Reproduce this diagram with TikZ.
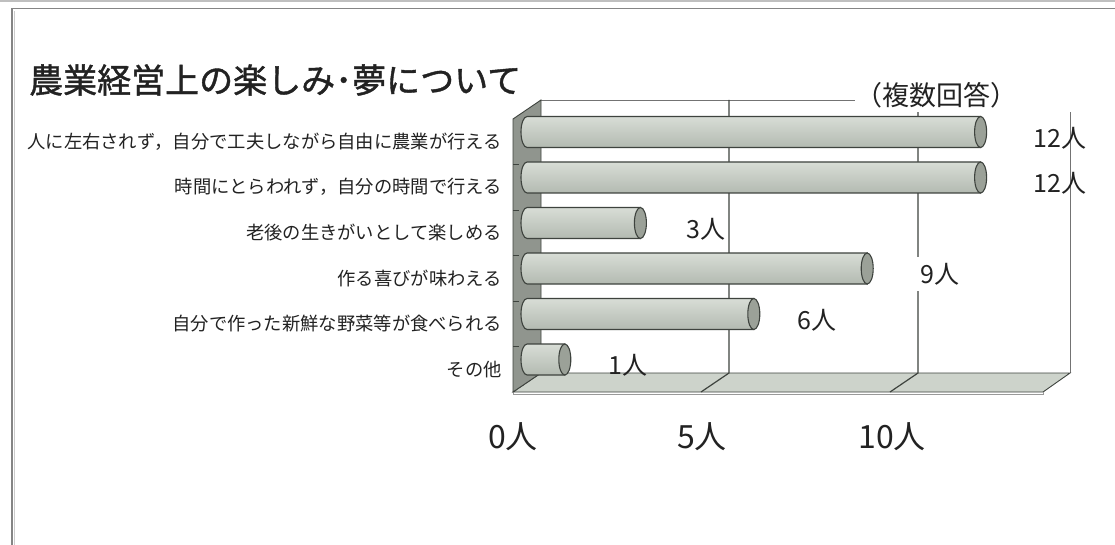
\documentclass[tikz,border=0pt]{standalone}
\usepackage{fontspec}
\setmainfont{Noto Sans CJK JP}
\newfontfamily\titlefont[FakeBold=1.2]{Noto Sans CJK JP}
\definecolor{wallgray}{HTML}{90958E}
\definecolor{floorc}{HTML}{CDD3CB}
\definecolor{edgec}{HTML}{3E433E}
\definecolor{capc}{HTML}{9BA198}
\definecolor{barTop}{HTML}{D8DDD6}
\definecolor{barMid}{HTML}{EDF0EB}
\definecolor{barBot}{HTML}{B3BAB1}
\definecolor{framec}{HTML}{858585}
\definecolor{txtc}{HTML}{222222}
\tikzset{
  catlabel/.style={anchor=east,inner sep=0pt,font=\fontsize{18.3}{20}\selectfont,text=txtc},
  vallabel/.style={inner sep=1pt,font=\fontsize{25}{28}\selectfont,text=txtc},
  axlabel/.style={inner sep=0pt,font=\fontsize{32}{34}\selectfont,text=txtc},
  gridln/.style={draw=edgec,line width=1.2pt},
  barbody/.style={draw=edgec,line width=1.1pt,top color=barTop,middle color=barMid,bottom color=barBot},
  barcap/.style={draw=edgec,line width=1.1pt,fill=capc},
}
\begin{document}
\begin{tikzpicture}[x=1pt,y=-1pt]
\useasboundingbox (0,0) rectangle (1115,545);
\fill[white] (0,0) rectangle (1115,545);
% frame
\fill[black!25] (0,0) rectangle (1115,2.5);
\draw[framec,line width=1.6pt] (12,545) -- (12,8.5) -- (1115,8.5);
\draw[black!20,line width=0.8pt] (14.5,545) -- (14.5,11);
% title
\node[anchor=west,inner sep=0pt,font=\fontsize{34}{36}\selectfont\titlefont,text=txtc] (title) at (29,80) {農業経営上の楽しみ･夢について};
% back wall
\coordinate (bwTL) at (541,100);
\coordinate (bwTR) at (1070,100);
\coordinate (bwBR) at (1070,373);
\coordinate (bwBL) at (541,373);
\coordinate (fL) at (513,392);
\coordinate (fR) at (1043,392);
\coordinate (lwT) at (513,119);
\draw[black!55,line width=0.9pt] (bwTL) -- (bwTR) -- (bwBR);
% floor
\filldraw[fill=floorc,draw=edgec,line width=0.9pt] (bwBL) -- (bwBR) -- (fR) -- (fL) -- cycle;
\draw[black!40,line width=0.8pt] (fL) -- ++(0,2.5) -- ++(530,0) -- (fR);
% gridlines
\coordinate (g5t) at (729,100);
\coordinate (g5b) at (729,373);
\coordinate (g5f) at (701,392);
\coordinate (g10t) at (918,100);
\coordinate (g10b) at (918,373);
\coordinate (g10f) at (890,392);
\draw[gridln] (g5t) -- (g5b) -- (g5f);
\draw[gridln] (g10t) -- (g10b) -- (g10f);
% left wall
\filldraw[fill=wallgray,draw=edgec,line width=0.9pt] (bwTL) -- (bwBL) -- (fL) -- (lwT) -- cycle;
\foreach \k in {1,...,5}{
  \draw[edgec,line width=0.7pt] (513,{119+45.5*\k}) -- (519,{119+45.5*\k});
}
% multiple answer label box
\fill[white] (855,78) rectangle (1085,112);
\node[inner sep=0pt,font=\fontsize{27}{30}\selectfont,text=txtc] (note) at (936,95) {（複数回答）};
% bars
\foreach \v [count=\i from 0] in {12,12,3,9,6,1}{
  \pgfmathsetmacro{\yc}{132+45.5*\i}
  \pgfmathsetmacro{\xe}{527+37.8*\v}
  \path[barbody] (527,\yc-15.5) arc[start angle=270,end angle=90,x radius=6,y radius=15.5]
     -- (\xe,\yc+15.5) -- (\xe,\yc-15.5) -- cycle;
  \path[barcap] (\xe,\yc) ellipse[x radius=6,y radius=15.5];
}
% category labels
\node[catlabel] (c1) at (502,141.75) {人に左右されず，自分で工夫しながら自由に農業が行える};
\node[catlabel] (c2) at (502,187.25) {時間にとらわれず，自分の時間で行える};
\node[catlabel] (c3) at (502,232.75) {老後の生きがいとして楽しめる};
\node[catlabel] (c4) at (502,278.25) {作る喜びが味わえる};
\node[catlabel] (c5) at (502,323.75) {自分で作った新鮮な野菜等が食べられる};
\node[catlabel] (c6) at (502,369.25) {その他};
% value labels
\node[vallabel] (v1) at (1060,138) {12人};
\node[vallabel] (v2) at (1060,183) {12人};
\node[vallabel] (v3) at (706,229) {3人};
\node[vallabel,fill=white,inner xsep=4pt,inner ysep=6pt] (v4) at (940,274) {9人};
\node[vallabel] (v5) at (817,320) {6人};
\node[vallabel] (v6) at (628,365) {1人};
% axis labels
\node[axlabel] (a0) at (513,437) {0人};
\node[axlabel] (a5) at (702,437) {5人};
\node[axlabel] (a10) at (892,437) {10人};
\end{tikzpicture}
\end{document}
